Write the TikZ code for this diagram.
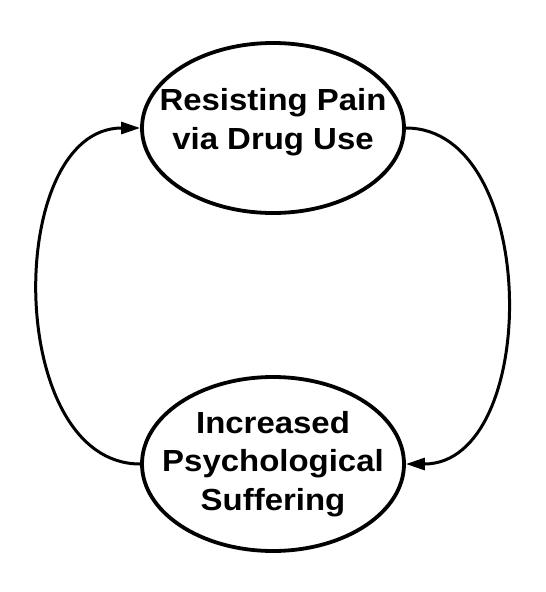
\documentclass[tikz,border=0pt]{standalone}
\usepackage{fontspec}
\setmainfont{Liberation Sans}[FakeStretch=1.08]
\usetikzlibrary{arrows.meta,shapes.geometric}
\begin{document}
\begin{tikzpicture}[x=1pt,y=-1pt,
            cycle/.style={ellipse,draw,line width=3.8pt,inner sep=0pt,
                    minimum width=262pt},
            label/.style={align=center,inner sep=0pt,
                    font=\fontsize{30.5}{38.5}\selectfont\bfseries},
            feedback/.style={line width=3pt,-{Triangle[length=19pt,width=12pt]}},
        ]
        \useasboundingbox (0,0) rectangle (546,592);

        % Two states (ellipse first, text on top)
        \node[cycle,minimum height=170pt] (pain) at (273,128) {};
        \node[label] (pain-text) at (273,122) {Resisting Pain\\via Drug Use};

        \node[cycle,minimum height=174pt] (suffering) at (273,464) {};
        \node[label] (suffering-text) at (273,464) {Increased\\Psychological\\Suffering};

        % Cycle between them
        \draw[feedback] (pain.east) .. controls +(135,0) and +(135,0) .. (suffering.east);
        \draw[feedback] (suffering.west) .. controls +(-136,0) and +(-136,0) .. (pain.west);

    \end{tikzpicture}
\end{document}
